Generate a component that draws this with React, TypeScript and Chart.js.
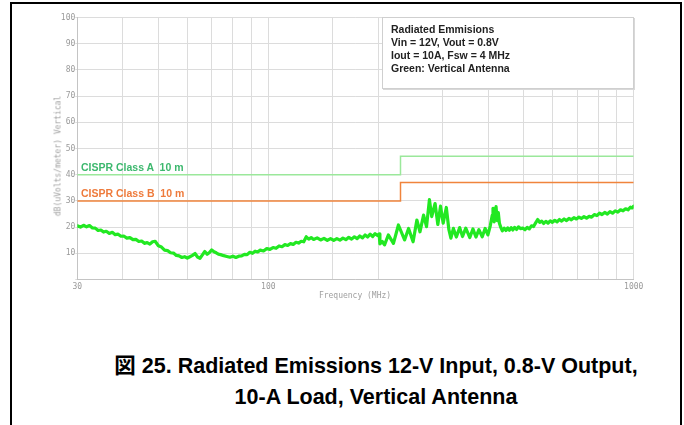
import React, { useEffect, useRef } from "react";
import { Chart, registerables } from "chart.js";
Chart.register(...registerables);

// Measured trace (MHz, dBuV/m)
const freqMHz = [
  30, 30.6, 31.2, 31.8, 32.4, 33, 33.6, 34.2, 34.8, 35.4, 36, 36.7, 37.4, 38.1, 38.8, 39.5, 40.2, 41, 41.8, 42.6,
  43.4, 44.2, 45, 45.8, 46.6, 47.4, 48.2, 49, 50, 51, 52, 53, 54, 55, 56, 57, 58, 59, 60, 61, 62, 63, 64, 65,
  66, 67, 68, 69, 70, 71, 72, 73, 74, 75.5, 77, 78.5, 80, 81.5, 83, 84.5, 86, 87.5, 89, 90.5, 92, 93.5, 95, 97, 99, 101,
  103, 105, 107, 109, 111, 113, 115, 117, 119, 121, 123, 125, 127, 129, 131, 133, 136, 139, 142, 145, 148, 151, 154,
  157, 160, 163, 166, 169, 172, 175, 178, 181, 184, 187, 190, 193, 196, 199, 201,
  202, 205, 208, 213, 220, 227, 236, 242, 249, 255, 260, 266, 271, 276, 280, 286, 291, 296, 301, 307, 312, 316,
  321, 327, 334, 340, 347, 356, 363, 370, 377, 385, 392, 399, 405, 410, 412, 415, 418, 420, 423, 426, 429, 433, 437,
  442, 447, 452, 457, 462, 467, 472, 478, 484, 490, 497, 504, 511, 518, 525, 532, 539, 546, 553, 560, 567, 575, 583,
  591, 599, 608, 617, 626, 635, 645, 655, 665, 675, 686, 697, 708, 719, 731, 743, 755, 767, 780, 793, 806, 819, 833,
  847, 861, 875, 890, 905, 920, 935, 950, 965, 980, 990, 1000,
];
const levelDb = [
  20.5, 20.0, 20.7, 20.1, 20.6, 19.7, 19.6, 18.7, 18.9, 18.1, 18.4, 17.6, 18.0, 17.1, 17.3, 16.5, 16.6, 15.8, 16.0, 15.2,
  15.3, 14.5, 14.7, 13.8, 14.1, 13.5, 14.4, 14.6, 12.9, 12.4, 11.2, 11.0, 10.2, 10.1, 9.2, 9.0, 8.4, 8.7, 8.2, 8.7, 9.2, 9.9, 8.6, 8.1,
  9.4, 10.7, 9.6, 10.3, 11.3, 10.6, 10.2, 9.7, 9.5, 9.1, 8.8, 8.5, 8.9, 8.4, 8.9, 9.0, 9.6, 9.5, 10.4, 10.0, 10.8, 10.5, 11.2, 10.9, 11.8, 11.5,
  12.2, 11.9, 12.8, 12.5, 13.3, 13.0, 13.7, 13.4, 14.2, 13.9, 14.6, 14.4, 16.3, 15.4, 16.0, 15.3, 15.9, 15.1, 15.7, 14.9, 15.6, 14.9, 15.6,
  15.0, 15.8, 15.2, 16.1, 15.4, 16.3, 15.6, 16.6, 15.9, 17.0, 16.2, 17.3, 16.4, 17.5, 16.8, 17.4,
  13.6, 14.5, 13.2, 17.0, 13.8, 20.8, 15.1, 19.5, 14.4, 22.7, 18.2, 24.6, 20.2, 30.5, 24.0, 29.0, 21.0, 28.0, 21.5, 27.5, 19.0, 15.8,
  19.5, 16.2, 19.8, 16.4, 19.6, 16.0, 19.3, 16.2, 19.0, 16.3, 19.5, 17.0, 20.5, 24.5, 27.2, 22.0, 26.0, 27.8, 22.5, 25.5, 21.5, 19.8, 18.6,
  19.6, 18.7, 19.7, 18.8, 19.8, 18.9, 19.9, 19.1, 20.1, 19.4, 19.6, 19.0, 19.9, 19.3, 20.5, 20.2, 21.6, 22.9, 21.8, 22.3, 21.4, 22.2, 21.5,
  22.4, 21.8, 22.6, 22.0, 22.9, 22.3, 23.1, 22.5, 23.3, 22.8, 23.6, 23.1, 23.8, 23.3, 24.0, 23.4, 24.1, 23.8, 24.8, 24.4, 25.3, 24.8, 25.6,
  25.0, 25.9, 25.3, 26.2, 25.7, 26.6, 26.2, 27.0, 26.6, 27.6, 27.3, 28.0,
];

// Limit lines
const classAFreq = [30, 230, 230, 1000];
const classALevel = [40, 40, 47, 47];
const classBFreq = [30, 230, 230, 1000];
const classBLevel = [30, 30, 37, 37];

const xLabelValues = [30, 100, 1000];

const mono = "'DejaVu Sans Mono', monospace";
const sans = "'Liberation Sans', Arial, 'Noto Sans CJK JP', sans-serif";

function toPoints(xs: number[], ys: number[]) {
  return xs.map((x, i) => ({ x, y: ys[i] }));
}

export default function App() {
  const ref = useRef<HTMLCanvasElement | null>(null);

  useEffect(() => {
    if (!ref.current) return;
    const chart = new Chart(ref.current, {
      type: "line",
      data: {
        datasets: [
          {
            label: "CISPR Class A 10 m",
            data: toPoints(classAFreq, classALevel),
            borderColor: "#9be89b",
            borderWidth: 1.5,
            pointRadius: 0,
            tension: 0,
          },
          {
            label: "CISPR Class B 10 m",
            data: toPoints(classBFreq, classBLevel),
            borderColor: "#f0843c",
            borderWidth: 1.5,
            pointRadius: 0,
            tension: 0,
          },
          {
            label: "Vertical",
            data: toPoints(freqMHz, levelDb),
            borderColor: "#22e822",
            borderWidth: 3.2,
            borderJoinStyle: "round",
            borderCapStyle: "round",
            pointRadius: 0,
            tension: 0,
          },
        ],
      },
      options: {
        responsive: false,
        animation: false,
        layout: { padding: { left: 0, top: 17.5, right: 50.3, bottom: 0 } },
        plugins: { legend: { display: false }, tooltip: { enabled: false } },
        scales: {
          x: {
            type: "logarithmic",
            min: 30,
            max: 1000,
            afterFit: (s: any) => {
              s.height = 300 - 279.5;
            },
            grid: { color: "#dcdcdc", lineWidth: 1, tickLength: 0 },
            border: { color: "#c4c4c4" },
            ticks: {
              autoSkip: false,
              maxRotation: 0,
              padding: 3,
              color: "#9a9a9a",
              font: { family: mono, size: 8 },
              callback: (v: any) => (xLabelValues.includes(Number(v)) ? String(v) : ""),
            },
          },
          y: {
            min: 0,
            max: 100,
            afterFit: (s: any) => {
              s.width = 77.3;
            },
            grid: { color: "#dcdcdc", lineWidth: 1, tickLength: 2 },
            border: { color: "#c4c4c4" },
            ticks: {
              stepSize: 10,
              padding: 0,
              color: "#9a9a9a",
              font: { family: mono, size: 8 },
              callback: (v: any) => (Number(v) === 0 ? "" : String(v)),
            },
          },
        },
      },
    });
    return () => chart.destroy();
  }, []);

  const boxLine: React.CSSProperties = { height: 13, lineHeight: "13px" };

  return (
    <div
      style={{
        position: "absolute",
        left: 0,
        top: 0,
        width: 684,
        height: 425,
        overflow: "hidden",
        background: "#fff",
      }}
    >
      <div
        style={{
          position: "absolute",
          left: 10,
          top: 2,
          width: 672,
          height: 600,
          border: "2px solid #000",
          boxSizing: "border-box",
        }}
      />
      <canvas
        ref={ref}
        width={684}
        height={300}
        style={{ position: "absolute", left: 0, top: 0, width: 684, height: 300 }}
      />
      {/* y axis title */}
      <div
        style={{
          position: "absolute",
          left: 58,
          top: 156,
          transform: "translate(-50%, -50%) rotate(-90deg)",
          whiteSpace: "nowrap",
          fontFamily: mono,
          fontSize: 8,
          color: "#a0a0a0",
        }}
      >
        dB(uVolts/meter) Vertical
      </div>
      {/* x axis title */}
      <div
        style={{
          position: "absolute",
          left: 355,
          top: 295,
          transform: "translate(-50%, -50%)",
          whiteSpace: "nowrap",
          fontFamily: mono,
          fontSize: 8,
          color: "#a0a0a0",
        }}
      >
        Frequency (MHz)
      </div>
      {/* limit labels */}
      <div
        style={{
          position: "absolute",
          left: 81,
          top: 161,
          whiteSpace: "pre",
          fontFamily: sans,
          fontWeight: "bold",
          fontSize: 10.5,
          color: "#3db86e",
        }}
      >
        {"CISPR Class A  10 m"}
      </div>
      <div
        style={{
          position: "absolute",
          left: 81,
          top: 187,
          whiteSpace: "pre",
          fontFamily: sans,
          fontWeight: "bold",
          fontSize: 10.5,
          color: "#ee7b3c",
        }}
      >
        {"CISPR Class B  10 m"}
      </div>
      {/* annotation box */}
      <div
        style={{
          position: "absolute",
          left: 382,
          top: 17,
          width: 252,
          height: 72,
          boxSizing: "border-box",
          background: "#fff",
          border: "1px solid #cfcfcf",
          boxShadow: "1px 1px 0 #d8d8d8",
          padding: "5px 0 0 8px",
          fontFamily: sans,
          fontWeight: "bold",
          fontSize: 10.5,
          color: "#222",
        }}
      >
        <div style={boxLine}>Radiated Emmisions</div>
        <div style={boxLine}>Vin = 12V, Vout = 0.8V</div>
        <div style={boxLine}>Iout = 10A, Fsw = 4 MHz</div>
        <div style={boxLine}>Green: Vertical Antenna</div>
      </div>
      {/* caption */}
      <div
        style={{
          position: "absolute",
          left: 26,
          top: 350.5,
          width: 700,
          textAlign: "center",
          whiteSpace: "nowrap",
          fontFamily: sans,
          fontWeight: "bold",
          fontSize: 21.5,
          lineHeight: "31px",
          color: "#000",
        }}
      >
        <div>図 25. Radiated Emissions 12-V Input, 0.8-V Output,</div>
        <div>10-A Load, Vertical Antenna</div>
      </div>
    </div>
  );
}
